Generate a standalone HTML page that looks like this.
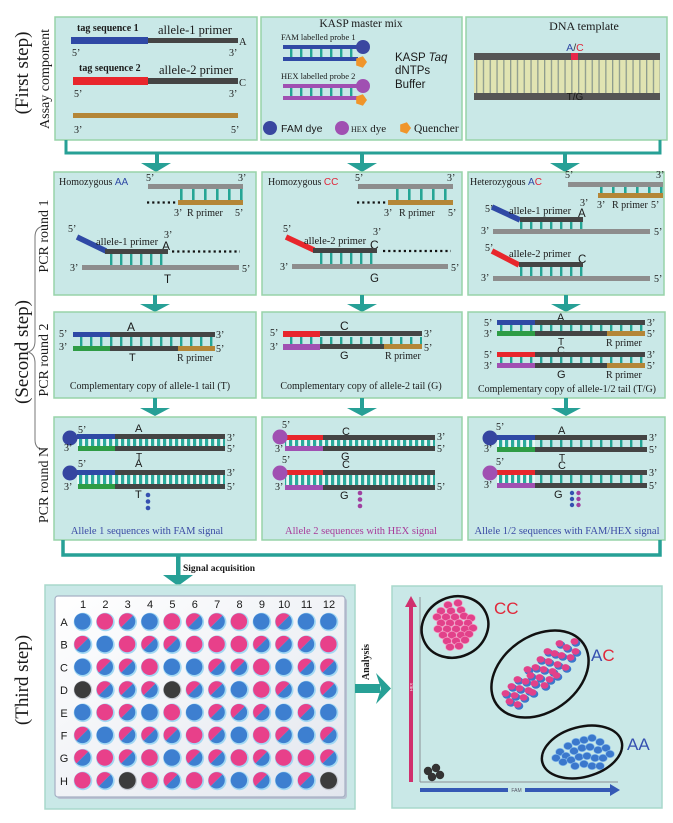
<!DOCTYPE html>
<html><head><meta charset="utf-8"><style>
html,body{margin:0;padding:0;background:#fff;}
svg{display:block;}
text{font-family:"Liberation Serif",serif;fill:#1a1a1a;}
.sa{font-family:"Liberation Sans",sans-serif;}
.pn{fill:#c9e8e7;stroke:#97d3a9;stroke-width:1.5;}
.f10{font-size:10px;}
</style></head><body>
<svg width="673" height="823" viewBox="0 0 673 823" xmlns="http://www.w3.org/2000/svg">
<defs>
<pattern id="r10" patternUnits="userSpaceOnUse" width="10" height="50"><rect width="2.4" height="50" fill="#25a595"/></pattern>
<pattern id="r12" patternUnits="userSpaceOnUse" width="12" height="50"><rect width="2.6" height="50" fill="#25a595"/></pattern>
<pattern id="r6" patternUnits="userSpaceOnUse" width="6" height="50"><rect width="6" height="50" fill="#eaf7f5"/><rect x="1" width="3.2" height="50" fill="#2aaa9c"/></pattern>
<pattern id="dna" patternUnits="userSpaceOnUse" width="6.8" height="50"><rect width="6.8" height="50" fill="#e1e4b2"/><rect width="1.3" height="50" fill="#8d9b8e"/></pattern>
<linearGradient id="pg" x1="0" y1="0" x2="1" y2="1"><stop offset="0" stop-color="#ffffff"/><stop offset="1" stop-color="#e2e6ee"/></linearGradient>
<g id="B"><circle r="9.3" fill="#a2d8f3"/><circle cx="-0.6" cy="-0.6" r="8.2" fill="#3d7fd0"/></g>
<g id="P"><circle r="9.3" fill="#a2d8f3"/><circle cx="-0.6" cy="-0.6" r="8.2" fill="#e8408a"/></g>
<g id="M"><circle r="9.3" fill="#a2d8f3"/><g transform="translate(-0.6,-0.6)"><path d="M5.8,-5.8 A8.2,8.2 0 0 0 -5.8,5.8Z" fill="#e8408a"/><path d="M5.8,-5.8 A8.2,8.2 0 0 1 -5.8,5.8Z" fill="#3d7fd0"/></g></g>
<g id="K"><circle r="9.3" fill="#c6cad2"/><circle cx="-0.4" cy="-0.4" r="8.4" fill="#3c3c3c"/></g>
<ellipse id="dp" rx="4.4" ry="3.7" fill="#e2418a" stroke="#f59ac3" stroke-width="0.6"/>
<ellipse id="db" rx="4.4" ry="3.7" fill="#3b78cc" stroke="#86bcec" stroke-width="0.6"/>
<g id="dm"><ellipse cx="0.9" cy="1" rx="4.4" ry="3.7" fill="#3b78cc"/><ellipse cx="-0.5" cy="-0.6" rx="4" ry="3.3" fill="#e2418a"/></g>
</defs>
<rect width="673" height="823" fill="#fff"/>

<!-- LEFT LABELS -->
<text transform="translate(28,73) rotate(-90)" text-anchor="middle" font-size="19">(First step)</text>
<text transform="translate(49,79) rotate(-90)" text-anchor="middle" font-size="14">Assay component</text>
<text transform="translate(68,59) rotate(-90)" text-anchor="middle" font-size="12.5">F primers</text>
<text transform="translate(68,117) rotate(-90)" text-anchor="middle" font-size="12.5">R primer</text>
<text transform="translate(28,352) rotate(-90)" text-anchor="middle" font-size="19">(Second step)</text>
<path d="M46,226 Q35,226 35,237 L35,341 Q35,350 28,352 Q35,354 35,363 L35,440 Q35,450 46,450" fill="none" stroke="#777" stroke-width="1"/>
<text transform="translate(48,236) rotate(-90)" text-anchor="middle" font-size="14">PCR round 1</text>
<text transform="translate(48,360) rotate(-90)" text-anchor="middle" font-size="14">PCR round 2</text>
<text transform="translate(48,485) rotate(-90)" text-anchor="middle" font-size="14">PCR round N</text>
<text transform="translate(28,680) rotate(-90)" text-anchor="middle" font-size="19">(Third step)</text>

<!-- ROW 1 -->
<rect x="55" y="17" width="202" height="123" class="pn"/>
<text x="77" y="31" font-size="10" font-weight="bold">tag sequence 1</text>
<text x="158" y="34" font-size="12.5">allele-1 primer</text>
<rect x="71" y="37" width="77" height="7" fill="#2f49a5"/>
<rect x="148" y="38" width="90" height="5" fill="#444"/>
<text x="239" y="45" font-size="10.5">A</text>
<text x="72" y="56" class="f10">5’</text><text x="229" y="56" class="f10">3’</text>
<text x="79" y="71" font-size="10" font-weight="bold">tag sequence 2</text>
<text x="159" y="74" font-size="12.5">allele-2 primer</text>
<rect x="73" y="77" width="75" height="8" fill="#e8262c"/>
<rect x="148" y="78" width="90" height="6" fill="#444"/>
<text x="239" y="86" font-size="10.5">C</text>
<text x="74" y="97" class="f10">5’</text><text x="229" y="97" class="f10">3’</text>
<rect x="73" y="113" width="165" height="5" fill="#b48637"/>
<text x="74" y="133" class="f10">3’</text><text x="231" y="133" class="f10">5’</text>

<rect x="261" y="17" width="201" height="123" class="pn"/>
<text x="361" y="27" text-anchor="middle" font-size="11.5">KASP master mix</text>
<text x="281" y="40" font-size="8.5">FAM labelled probe 1</text>
<rect x="283" y="45" width="78" height="4" fill="#2f49a5"/>
<rect x="283" y="49" width="75" height="8" fill="url(#r10)"/>
<rect x="283" y="57" width="75" height="4" fill="#2f49a5"/>
<circle cx="363" cy="47" r="7" fill="#3a47a0"/>
<polygon points="367,62 362.9,67.7 356.2,65.5 356.2,58.5 362.9,56.3" fill="#f0952a"/>
<text x="281" y="79" font-size="8.5">HEX labelled probe 2</text>
<rect x="283" y="84" width="78" height="4" fill="#a050b2"/>
<rect x="283" y="88" width="75" height="8" fill="url(#r10)"/>
<rect x="283" y="96" width="75" height="4" fill="#a050b2"/>
<circle cx="363" cy="86" r="7" fill="#a050b2"/>
<polygon points="367,100 362.9,105.7 356.2,103.5 356.2,96.5 362.9,94.3" fill="#f0952a"/>
<text x="395" y="61" class="sa" font-size="11.5">KASP <tspan font-style="italic">Taq</tspan></text>
<text x="395" y="74" class="sa" font-size="11.5">dNTPs</text>
<text x="395" y="88" class="sa" font-size="11.5">Buffer</text>
<circle cx="270" cy="128" r="7" fill="#3a47a0"/>
<text x="281" y="132" class="sa" font-size="10.5">FAM dye</text>
<circle cx="342" cy="128" r="7" fill="#a050b2"/>
<text x="351" y="132" font-size="11"><tspan font-size="8">HEX</tspan> dye</text>
<polygon points="411,128 406.9,133.7 400.2,131.5 400.2,124.5 406.9,122.3" fill="#f0952a"/>
<text x="414" y="132" font-size="11.5">Quencher</text>

<rect x="466" y="17" width="201" height="123" class="pn"/>
<text x="584" y="30" text-anchor="middle" font-size="12">DNA template</text>
<text x="575" y="51" text-anchor="middle" class="sa" font-size="10.5"><tspan fill="#2f49a5">A</tspan><tspan fill="#333">/</tspan><tspan fill="#e0263a">C</tspan></text>
<rect x="474" y="60" width="186" height="33" fill="url(#dna)"/>
<rect x="474" y="53" width="186" height="7" fill="#555"/>
<rect x="474" y="93" width="186" height="7" fill="#555"/>
<rect x="571" y="53" width="7" height="7" fill="#e8264a"/>
<text x="575" y="100" text-anchor="middle" class="sa" font-size="10">T/G</text>

<!-- connector 1 -->
<polyline points="66,140 66,153 660,153 660,140" fill="none" stroke="#27a096" stroke-width="3"/>
<rect x="155" y="153" width="4" height="12" fill="#27a096"/><polygon points="141,163 171,163 156,172" fill="#27a096"/>
<rect x="360" y="153" width="4" height="12" fill="#27a096"/><polygon points="347,163 377,163 362,172" fill="#27a096"/>
<rect x="563" y="153" width="4" height="12" fill="#27a096"/><polygon points="550,163 580,163 565,172" fill="#27a096"/>

<!-- ROW 2 -->
<rect x="54" y="172" width="202" height="123" class="pn"/>
<text x="59" y="185" class="f10">Homozygous <tspan class="sa" fill="#2f49a5">AA</tspan></text>
<text x="146" y="181" class="f10">5’</text><text x="238" y="181" class="f10">3’</text>
<rect x="148" y="184" width="95" height="5" fill="#8d8d8d"/>
<rect x="178" y="189" width="65" height="11" fill="url(#r12)"/>
<rect x="178" y="200" width="65" height="5" fill="#b48637"/>
<line x1="147" y1="202.5" x2="177" y2="202.5" stroke="#111" stroke-width="2.2" stroke-dasharray="2.2 3"/>
<text x="174" y="216" class="f10">3’</text><text x="187" y="216" class="f10">R primer</text><text x="235" y="216" class="f10">5’</text>
<text x="68" y="232" class="f10">5’</text>
<line x1="77" y1="237" x2="106" y2="251" stroke="#2f49a5" stroke-width="5.5"/>
<text x="96" y="245" font-size="10.5">allele-1 primer</text>
<text x="164" y="238" class="f10">3’</text>
<text x="162" y="250" class="sa" font-size="12" fill="#2f49a5">A</text>
<rect x="105" y="249" width="63" height="5" fill="#444"/>
<line x1="172" y1="251.5" x2="240" y2="251.5" stroke="#111" stroke-width="2.2" stroke-dasharray="2.2 3"/>
<rect x="106" y="254" width="63" height="11" fill="url(#r10)"/>
<text x="70" y="271" class="f10">3’</text>
<rect x="82" y="265" width="157" height="5" fill="#8d8d8d"/>
<text x="242" y="272" class="f10">5’</text>
<text x="164" y="283" class="sa" font-size="11.5">T</text>

<rect x="262" y="172" width="200" height="123" class="pn"/>
<text x="268" y="185" class="f10">Homozygous <tspan class="sa" fill="#e0263a">CC</tspan></text>
<text x="355" y="181" class="f10">5’</text><text x="447" y="181" class="f10">3’</text>
<rect x="358" y="184" width="95" height="5" fill="#8d8d8d"/>
<rect x="388" y="189" width="65" height="11" fill="url(#r12)"/>
<rect x="388" y="200" width="65" height="5" fill="#b48637"/>
<line x1="357" y1="202.5" x2="387" y2="202.5" stroke="#111" stroke-width="2.2" stroke-dasharray="2.2 3"/>
<text x="384" y="216" class="f10">3’</text><text x="399" y="216" class="f10">R  primer</text><text x="448" y="216" class="f10">5’</text>
<text x="283" y="232" class="f10">5’</text>
<line x1="286" y1="237" x2="314" y2="250" stroke="#e8262c" stroke-width="5.5"/>
<text x="304" y="244" font-size="10.5">allele-2 primer</text>
<text x="373" y="235" class="f10">3’</text>
<text x="370" y="249" class="sa" font-size="12" fill="#e0263a">C</text>
<rect x="313" y="248" width="64" height="5" fill="#444"/>
<line x1="383" y1="251" x2="451" y2="251" stroke="#111" stroke-width="2.2" stroke-dasharray="2.2 3"/>
<rect x="313" y="253" width="64" height="11" fill="url(#r10)"/>
<text x="280" y="270" class="f10">3’</text>
<rect x="292" y="264" width="156" height="5" fill="#8d8d8d"/>
<text x="451" y="271" class="f10">5’</text>
<text x="370" y="282" class="sa" font-size="11.5">G</text>

<rect x="468" y="172" width="196" height="123" class="pn"/>
<text x="470" y="185" class="f10">Heterozygous <tspan class="sa" fill="#2f49a5">A</tspan><tspan class="sa" fill="#e0263a">C</tspan></text>
<text x="565" y="178" class="f10">5’</text><text x="656" y="178" class="f10">3’</text>
<rect x="568" y="182" width="95" height="5" fill="#8d8d8d"/>
<rect x="598" y="187" width="65" height="6" fill="url(#r12)"/>
<rect x="598" y="193" width="65" height="5" fill="#b48637"/>
<text x="597" y="208" class="f10">3’</text><text x="612" y="208" class="f10">R primer</text><text x="651" y="208" class="f10">5’</text>
<text x="485" y="212" class="f10">5’</text>
<line x1="492" y1="207" x2="520" y2="220" stroke="#2f49a5" stroke-width="5.5"/>
<text x="509" y="214" font-size="10.5">allele-1 primer</text>
<text x="580" y="206" class="f10">3’</text>
<text x="578" y="217" class="sa" font-size="11.5" fill="#2f49a5">A</text>
<rect x="520" y="217" width="63" height="5" fill="#444"/>
<rect x="520" y="222" width="63" height="8" fill="url(#r10)"/>
<text x="481" y="234" class="f10">3’</text>
<rect x="493" y="229" width="157" height="5" fill="#8d8d8d"/>
<text x="654" y="235" class="f10">5’</text>
<text x="485" y="251" class="f10">5’</text>
<line x1="492" y1="251" x2="519" y2="265" stroke="#e8262c" stroke-width="5.5"/>
<text x="509" y="257" font-size="10.5">allele-2 primer</text>
<text x="578" y="263" class="sa" font-size="11.5" fill="#e0263a">C</text>
<rect x="519" y="262" width="64" height="5" fill="#444"/>
<rect x="519" y="267" width="64" height="9" fill="url(#r10)"/>
<text x="481" y="281" class="f10">3’</text>
<rect x="493" y="276" width="157" height="5" fill="#8d8d8d"/>
<text x="654" y="282" class="f10">5’</text>

<!-- arrows 2->3 -->
<rect x="153" y="295" width="4" height="10" fill="#27a096"/><polygon points="140,304 170,304 155,312" fill="#27a096"/>
<rect x="360" y="295" width="4" height="10" fill="#27a096"/><polygon points="347,304 377,304 362,312" fill="#27a096"/>
<rect x="564" y="295" width="4" height="10" fill="#27a096"/><polygon points="551,304 581,304 566,312" fill="#27a096"/>

<!-- ROW 3 -->
<rect x="54" y="312" width="202" height="86" class="pn"/>
<text x="127" y="331" class="sa" font-size="12" fill="#2f49a5">A</text>
<text x="59" y="337" class="f10">5’</text>
<rect x="73" y="337" width="142" height="9" fill="url(#r10)"/>
<rect x="73" y="332" width="37" height="5" fill="#2f49a5"/><rect x="110" y="332" width="105" height="5" fill="#444"/>
<text x="216" y="338" class="f10">3’</text>
<text x="59" y="350" class="f10">3’</text>
<rect x="73" y="346" width="37" height="5" fill="#2e9c45"/><rect x="110" y="346" width="68" height="5" fill="#444"/><rect x="178" y="346" width="37" height="5" fill="#b48637"/>
<text x="216" y="352" class="f10">5’</text>
<text x="129" y="361" class="sa" font-size="11">T</text>
<text x="177" y="361" class="f10">R primer</text>
<text x="150" y="389" text-anchor="middle" class="f10">Complementary copy of allele-1 tail (T)</text>

<rect x="262" y="312" width="200" height="86" class="pn"/>
<text x="340" y="330" class="sa" font-size="12" fill="#e0263a">C</text>
<text x="270" y="336" class="f10">5’</text>
<rect x="283" y="337" width="139" height="7" fill="url(#r10)"/>
<rect x="283" y="331" width="37" height="6" fill="#e8262c"/><rect x="320" y="331" width="102" height="5" fill="#444"/>
<text x="424" y="337" class="f10">3’</text>
<text x="270" y="350" class="f10">3’</text>
<rect x="283" y="344" width="37" height="6" fill="#a050b2"/><rect x="320" y="344" width="64" height="5" fill="#444"/><rect x="384" y="344" width="38" height="5" fill="#b48637"/>
<text x="424" y="351" class="f10">5’</text>
<text x="340" y="359" class="sa" font-size="11">G</text>
<text x="385" y="359" class="f10">R primer</text>
<text x="361" y="389" text-anchor="middle" class="f10">Complementary copy of allele-2 tail (G)</text>

<rect x="468" y="312" width="197" height="86" class="pn"/>
<text x="557" y="321" class="sa" font-size="11" fill="#2f49a5">A</text>
<text x="484" y="326" class="f10">5’</text>
<rect x="497" y="325" width="148" height="6" fill="url(#r10)"/>
<rect x="497" y="320" width="38" height="5" fill="#2f49a5"/><rect x="535" y="320" width="110" height="5" fill="#444"/>
<text x="647" y="326" class="f10">3’</text>
<text x="484" y="337" class="f10">3’</text>
<rect x="497" y="331" width="38" height="5" fill="#2e9c45"/><rect x="535" y="331" width="72" height="5" fill="#444"/><rect x="607" y="331" width="38" height="5" fill="#b48637"/>
<text x="647" y="337" class="f10">5’</text>
<text x="558" y="345" class="sa" font-size="10">T</text>
<text x="606" y="346" class="f10">R primer</text>
<text x="557" y="354" class="sa" font-size="11" fill="#e0263a">C</text>
<text x="484" y="358" class="f10">5’</text>
<rect x="497" y="357" width="148" height="6" fill="url(#r10)"/>
<rect x="497" y="352" width="38" height="5" fill="#e8262c"/><rect x="535" y="352" width="110" height="5" fill="#444"/>
<text x="647" y="358" class="f10">3’</text>
<text x="484" y="369" class="f10">3’</text>
<rect x="497" y="363" width="38" height="5" fill="#a050b2"/><rect x="535" y="363" width="72" height="5" fill="#444"/><rect x="607" y="363" width="38" height="5" fill="#b48637"/>
<text x="647" y="369" class="f10">5’</text>
<text x="557" y="378" class="sa" font-size="11">G</text>
<text x="606" y="378" class="f10">R primer</text>
<text x="567" y="392" text-anchor="middle" class="f10">Complementary copy of allele-1/2 tail (T/G)</text>

<!-- arrows 3->4 -->
<rect x="153" y="398" width="4" height="11" fill="#27a096"/><polygon points="140,408 170,408 155,416" fill="#27a096"/>
<rect x="360" y="398" width="4" height="11" fill="#27a096"/><polygon points="347,408 377,408 362,416" fill="#27a096"/>
<rect x="564" y="398" width="4" height="11" fill="#27a096"/><polygon points="551,408 581,408 566,416" fill="#27a096"/>

<!-- ROW 4 -->
<rect x="54" y="417" width="202" height="123" class="pn"/>
<text x="78" y="433" class="f10">5’</text>
<text x="135" y="432" class="sa" font-size="11" fill="#2f49a5">A</text>
<rect x="77" y="439" width="148" height="7" fill="url(#r6)"/>
<rect x="77" y="434" width="38" height="5" fill="#2f49a5"/><rect x="115" y="434" width="110" height="5" fill="#444"/>
<circle cx="70" cy="438" r="7.5" fill="#3545a0"/>
<text x="227" y="441" class="f10">3’</text>
<text x="64" y="451" class="f10">3’</text>
<rect x="78" y="446" width="37" height="5" fill="#2e9c45"/><rect x="115" y="446" width="110" height="5" fill="#444"/>
<text x="227" y="452" class="f10">5’</text>
<text x="136" y="460" class="sa" font-size="10">T</text>
<text x="78" y="467" class="f10">5’</text>
<text x="135" y="467" class="sa" font-size="11" fill="#2f49a5">A</text>
<rect x="77" y="475" width="148" height="9" fill="url(#r6)"/>
<rect x="77" y="470" width="38" height="5" fill="#2f49a5"/><rect x="115" y="470" width="110" height="5" fill="#444"/>
<circle cx="70" cy="473" r="7.5" fill="#3545a0"/>
<text x="227" y="476" class="f10">3’</text>
<text x="64" y="490" class="f10">3’</text>
<rect x="78" y="484" width="37" height="5" fill="#2e9c45"/><rect x="115" y="484" width="110" height="5" fill="#444"/>
<text x="227" y="490" class="f10">5’</text>
<text x="135" y="498" class="sa" font-size="11">T</text>
<circle cx="148" cy="495" r="2.3" fill="#3550b0"/><circle cx="148" cy="501.5" r="2.3" fill="#3550b0"/><circle cx="148" cy="508" r="2.3" fill="#3550b0"/>
<text x="147" y="534" text-anchor="middle" font-size="10.5" style="fill:#3a4aa5">Allele 1 sequences with FAM signal</text>

<rect x="262" y="417" width="200" height="123" class="pn"/>
<text x="282" y="428" class="f10">5’</text>
<text x="342" y="435" class="sa" font-size="11" fill="#e0263a">C</text>
<rect x="285" y="440" width="150" height="6" fill="url(#r6)"/>
<rect x="285" y="435" width="38" height="5" fill="#e8262c"/><rect x="323" y="435" width="112" height="5" fill="#444"/>
<circle cx="280" cy="437" r="7.5" fill="#a050b2"/>
<text x="437" y="440" class="f10">3’</text>
<text x="275" y="452" class="f10">3’</text>
<rect x="285" y="446" width="38" height="5" fill="#a050b2"/><rect x="323" y="446" width="112" height="5" fill="#444"/>
<text x="437" y="452" class="f10">5’</text>
<text x="341" y="460" class="sa" font-size="11">G</text>
<text x="282" y="463" class="f10">5’</text>
<text x="342" y="468" class="sa" font-size="11" fill="#e0263a">C</text>
<rect x="285" y="475" width="150" height="10" fill="url(#r6)"/>
<rect x="285" y="470" width="38" height="5" fill="#e8262c"/><rect x="323" y="470" width="112" height="5" fill="#444"/>
<circle cx="280" cy="473" r="7.5" fill="#a050b2"/>
<text x="275" y="490" class="f10">3’</text>
<rect x="285" y="485" width="38" height="5" fill="#a050b2"/><rect x="323" y="485" width="112" height="5" fill="#444"/>
<text x="437" y="490" class="f10">5’</text>
<text x="340" y="499" class="sa" font-size="11">G</text>
<circle cx="360" cy="493" r="2.3" fill="#a040a0"/><circle cx="360" cy="499.5" r="2.3" fill="#a040a0"/><circle cx="360" cy="506" r="2.3" fill="#a040a0"/>
<text x="361" y="534" text-anchor="middle" font-size="10.5" style="fill:#a83a9a">Allele 2 sequences with HEX signal</text>

<rect x="468" y="417" width="197" height="123" class="pn"/>
<text x="496" y="430" class="f10">5’</text>
<text x="558" y="434" class="sa" font-size="11" fill="#2f49a5">A</text>
<rect x="497" y="440" width="150" height="7" fill="url(#r10)"/>
<rect x="497" y="440" width="38" height="7" fill="url(#r6)"/>
<rect x="497" y="435" width="38" height="5" fill="#2f49a5"/><rect x="535" y="435" width="112" height="5" fill="#444"/>
<circle cx="490" cy="438" r="7.5" fill="#3545a0"/>
<text x="649" y="441" class="f10">3’</text>
<text x="484" y="452" class="f10">3’</text>
<rect x="497" y="447" width="38" height="5" fill="#2e9c45"/><rect x="535" y="447" width="112" height="5" fill="#444"/>
<text x="649" y="453" class="f10">5’</text>
<text x="559" y="461" class="sa" font-size="10">T</text>
<text x="496" y="465" class="f10">5’</text>
<text x="558" y="469" class="sa" font-size="11" fill="#e0263a">C</text>
<rect x="497" y="475" width="150" height="8" fill="url(#r10)"/>
<rect x="497" y="475" width="38" height="8" fill="url(#r6)"/>
<rect x="497" y="470" width="38" height="5" fill="#e8262c"/><rect x="535" y="470" width="112" height="5" fill="#444"/>
<circle cx="490" cy="473" r="7.5" fill="#a050b2"/>
<text x="649" y="476" class="f10">3’</text>
<text x="484" y="488" class="f10">3’</text>
<rect x="497" y="483" width="38" height="5" fill="#a050b2"/><rect x="535" y="483" width="112" height="5" fill="#444"/>
<text x="649" y="489" class="f10">5’</text>
<text x="554" y="498" class="sa" font-size="11">G</text>
<circle cx="572" cy="493" r="2.2" fill="#3550b0"/><circle cx="572" cy="499" r="2.2" fill="#3550b0"/><circle cx="572" cy="505" r="2.2" fill="#3550b0"/>
<circle cx="578.5" cy="493" r="2.2" fill="#a040a0"/><circle cx="578.5" cy="499" r="2.2" fill="#a040a0"/><circle cx="578.5" cy="505" r="2.2" fill="#a040a0"/>
<text x="567" y="534" text-anchor="middle" font-size="10.5" style="fill:#3a4aa5">Allele 1/2 sequences with FAM/HEX signal</text>

<!-- bottom connector -->
<polyline points="63,540 63,555 660,555 660,540" fill="none" stroke="#27a096" stroke-width="3.5"/>
<rect x="176" y="555" width="4.5" height="21" fill="#27a096"/><polygon points="163,575 193,575 178,586" fill="#27a096"/>
<text x="183" y="571" font-size="9.5" font-weight="bold">Signal acquisition</text>

<!-- PLATE -->
<rect x="45" y="585" width="310" height="224" class="pn" style="stroke:#a8d8cc"/>
<rect x="57" y="598" width="290" height="201" rx="3" fill="#b9c2d2"/>
<rect x="55" y="596" width="290" height="201" rx="3" fill="url(#pg)" stroke="#a6b0c4" stroke-width="1.2"/>
<g class="sa" font-size="11" text-anchor="middle">
<text x="83" y="608" class="sa">1</text><text x="105.4" y="608" class="sa">2</text><text x="127.7" y="608" class="sa">3</text><text x="150.1" y="608" class="sa">4</text><text x="172.4" y="608" class="sa">5</text><text x="194.8" y="608" class="sa">6</text><text x="217.2" y="608" class="sa">7</text><text x="239.5" y="608" class="sa">8</text><text x="261.9" y="608" class="sa">9</text><text x="284.2" y="608" class="sa">10</text><text x="306.6" y="608" class="sa">11</text><text x="329" y="608" class="sa">12</text>
<text x="64" y="626" class="sa">A</text><text x="64" y="648.7" class="sa">B</text><text x="64" y="671.4" class="sa">C</text><text x="64" y="694.1" class="sa">D</text><text x="64" y="716.8" class="sa">E</text><text x="64" y="739.5" class="sa">F</text><text x="64" y="762.2" class="sa">G</text><text x="64" y="784.9" class="sa">H</text>
</g>
<g>
<use href="#B" x="83" y="622"/><use href="#P" x="105.4" y="622"/><use href="#M" x="127.7" y="622"/><use href="#B" x="150.1" y="622"/><use href="#P" x="172.4" y="622"/><use href="#M" x="194.8" y="622"/><use href="#M" x="217.2" y="622"/><use href="#P" x="239.5" y="622"/><use href="#B" x="261.9" y="622"/><use href="#M" x="284.2" y="622"/><use href="#B" x="306.6" y="622"/><use href="#B" x="329" y="622"/>
<use href="#M" x="83" y="644.7"/><use href="#B" x="105.4" y="644.7"/><use href="#P" x="127.7" y="644.7"/><use href="#M" x="150.1" y="644.7"/><use href="#M" x="172.4" y="644.7"/><use href="#P" x="194.8" y="644.7"/><use href="#P" x="217.2" y="644.7"/><use href="#P" x="239.5" y="644.7"/><use href="#M" x="261.9" y="644.7"/><use href="#M" x="284.2" y="644.7"/><use href="#M" x="306.6" y="644.7"/><use href="#P" x="329" y="644.7"/>
<use href="#B" x="83" y="667.4"/><use href="#M" x="105.4" y="667.4"/><use href="#M" x="127.7" y="667.4"/><use href="#P" x="150.1" y="667.4"/><use href="#B" x="172.4" y="667.4"/><use href="#B" x="194.8" y="667.4"/><use href="#M" x="217.2" y="667.4"/><use href="#M" x="239.5" y="667.4"/><use href="#P" x="261.9" y="667.4"/><use href="#B" x="284.2" y="667.4"/><use href="#M" x="306.6" y="667.4"/><use href="#M" x="329" y="667.4"/>
<use href="#K" x="83" y="690.1"/><use href="#M" x="105.4" y="690.1"/><use href="#M" x="127.7" y="690.1"/><use href="#M" x="150.1" y="690.1"/><use href="#K" x="172.4" y="690.1"/><use href="#M" x="194.8" y="690.1"/><use href="#M" x="217.2" y="690.1"/><use href="#B" x="239.5" y="690.1"/><use href="#P" x="261.9" y="690.1"/><use href="#M" x="284.2" y="690.1"/><use href="#B" x="306.6" y="690.1"/><use href="#M" x="329" y="690.1"/>
<use href="#B" x="83" y="712.8"/><use href="#P" x="105.4" y="712.8"/><use href="#M" x="127.7" y="712.8"/><use href="#B" x="150.1" y="712.8"/><use href="#P" x="172.4" y="712.8"/><use href="#B" x="194.8" y="712.8"/><use href="#M" x="217.2" y="712.8"/><use href="#M" x="239.5" y="712.8"/><use href="#M" x="261.9" y="712.8"/><use href="#B" x="284.2" y="712.8"/><use href="#M" x="306.6" y="712.8"/><use href="#B" x="329" y="712.8"/>
<use href="#M" x="83" y="735.5"/><use href="#B" x="105.4" y="735.5"/><use href="#M" x="127.7" y="735.5"/><use href="#M" x="150.1" y="735.5"/><use href="#M" x="172.4" y="735.5"/><use href="#P" x="194.8" y="735.5"/><use href="#M" x="217.2" y="735.5"/><use href="#B" x="239.5" y="735.5"/><use href="#P" x="261.9" y="735.5"/><use href="#M" x="284.2" y="735.5"/><use href="#B" x="306.6" y="735.5"/><use href="#M" x="329" y="735.5"/>
<use href="#M" x="83" y="758.2"/><use href="#P" x="105.4" y="758.2"/><use href="#M" x="127.7" y="758.2"/><use href="#P" x="150.1" y="758.2"/><use href="#B" x="172.4" y="758.2"/><use href="#M" x="194.8" y="758.2"/><use href="#M" x="217.2" y="758.2"/><use href="#P" x="239.5" y="758.2"/><use href="#M" x="261.9" y="758.2"/><use href="#P" x="284.2" y="758.2"/><use href="#P" x="306.6" y="758.2"/><use href="#M" x="329" y="758.2"/>
<use href="#P" x="83" y="780.9"/><use href="#M" x="105.4" y="780.9"/><use href="#K" x="127.7" y="780.9"/><use href="#P" x="150.1" y="780.9"/><use href="#M" x="172.4" y="780.9"/><use href="#P" x="194.8" y="780.9"/><use href="#M" x="217.2" y="780.9"/><use href="#B" x="239.5" y="780.9"/><use href="#M" x="261.9" y="780.9"/><use href="#B" x="284.2" y="780.9"/><use href="#M" x="306.6" y="780.9"/><use href="#K" x="329" y="780.9"/>
</g>

<!-- Analysis arrow -->
<rect x="355" y="684" width="25" height="9" fill="#27a096"/>
<polygon points="376,673 391,688.5 376,704 381,688.5" fill="#27a096"/>
<text transform="translate(369,662) rotate(-90)" text-anchor="middle" font-size="10" font-weight="bold">Analysis</text>

<!-- SCATTER -->
<rect x="392" y="586" width="270" height="222" class="pn" style="stroke:#a8d8cc"/>
<line x1="420" y1="597" x2="420" y2="782" stroke="#8a8f96" stroke-width="1"/>
<line x1="420" y1="782" x2="618" y2="782" stroke="#8a8f96" stroke-width="1"/>
<rect x="409" y="604" width="4" height="178" fill="#d0306e"/>
<polygon points="405,607 417,607 411,596" fill="#d0306e"/>
<text transform="translate(412.5,687) rotate(-90)" text-anchor="middle" class="sa" font-size="4" style="fill:#fff">HEX</text>
<rect x="420" y="788" width="88" height="4" fill="#3559b5"/>
<rect x="525" y="788" width="87" height="4" fill="#3559b5"/>
<polygon points="610,784 610,796 620,790" fill="#3559b5"/>
<text x="516.5" y="792" text-anchor="middle" class="sa" font-size="5" style="fill:#556">FAM</text>

<g>
<use href="#dp" x="448" y="605"/><use href="#dp" x="458" y="603"/>
<use href="#dp" x="441" y="611"/><use href="#dp" x="451" y="611"/><use href="#dp" x="461" y="610"/>
<use href="#dp" x="437" y="617"/><use href="#dp" x="446" y="617"/><use href="#dp" x="455" y="617"/><use href="#dp" x="464" y="616"/><use href="#dp" x="471" y="618"/>
<use href="#dp" x="441" y="623"/><use href="#dp" x="450" y="623"/><use href="#dp" x="459" y="623"/><use href="#dp" x="468" y="623"/>
<use href="#dp" x="438" y="629"/><use href="#dp" x="447" y="629"/><use href="#dp" x="456" y="629"/><use href="#dp" x="465" y="629"/><use href="#dp" x="473" y="628"/>
<use href="#dp" x="443" y="635"/><use href="#dp" x="452" y="635"/><use href="#dp" x="461" y="635"/><use href="#dp" x="469" y="634"/>
<use href="#dp" x="447" y="641"/><use href="#dp" x="456" y="641"/><use href="#dp" x="465" y="640"/>
<use href="#dp" x="450" y="647"/><use href="#dp" x="459" y="646"/>
</g>
<g>
<use href="#dm" x="575" y="642"/><use href="#dm" x="560" y="644"/><use href="#dm" x="567" y="648"/><use href="#dm" x="548" y="652"/><use href="#dm" x="555" y="654"/><use href="#dm" x="576" y="652"/>
<use href="#dm" x="562" y="656"/><use href="#dm" x="571" y="658"/><use href="#dm" x="541" y="660"/><use href="#dm" x="549" y="662"/><use href="#dm" x="558" y="665"/><use href="#dm" x="566" y="668"/>
<use href="#dm" x="536" y="668"/><use href="#dm" x="544" y="670"/><use href="#dm" x="528" y="670"/><use href="#dm" x="553" y="672"/><use href="#dm" x="531" y="676"/><use href="#dm" x="557" y="676"/>
<use href="#dm" x="540" y="678"/><use href="#dm" x="518" y="680"/><use href="#dm" x="550" y="680"/><use href="#dm" x="526" y="682"/><use href="#dm" x="535" y="684"/><use href="#dm" x="545" y="686"/>
<use href="#dm" x="512" y="687"/><use href="#dm" x="520" y="689"/><use href="#dm" x="529" y="691"/><use href="#dm" x="533" y="693"/><use href="#dm" x="506" y="694"/><use href="#dm" x="515" y="696"/>
<use href="#dm" x="524" y="698"/><use href="#dm" x="510" y="702"/><use href="#dm" x="518" y="705"/>
</g>
<g>
<use href="#db" x="568" y="746"/><use href="#db" x="576" y="742"/><use href="#db" x="584" y="740"/><use href="#db" x="592" y="738"/><use href="#db" x="600" y="742"/>
<use href="#db" x="560" y="752"/><use href="#db" x="574" y="751"/><use href="#db" x="582" y="748"/><use href="#db" x="590" y="747"/><use href="#db" x="598" y="750"/><use href="#db" x="606" y="748"/>
<use href="#db" x="566" y="756"/><use href="#db" x="556" y="758"/><use href="#db" x="563" y="762"/><use href="#db" x="571" y="760"/><use href="#db" x="579" y="757"/><use href="#db" x="587" y="756"/><use href="#db" x="595" y="758"/><use href="#db" x="603" y="758"/><use href="#db" x="610" y="754"/>
<use href="#db" x="575" y="766"/><use href="#db" x="584" y="764"/><use href="#db" x="592" y="766"/><use href="#db" x="600" y="766"/>
</g>
<circle cx="428" cy="771" r="4.2" fill="#333"/><circle cx="436" cy="768" r="4.2" fill="#333"/><circle cx="432" cy="777" r="4.2" fill="#333"/><circle cx="440" cy="775" r="4.2" fill="#333"/>

<ellipse cx="455" cy="627" rx="34" ry="30" transform="rotate(-25 455 627)" fill="none" stroke="#111" stroke-width="2.5"/>
<ellipse cx="540" cy="674" rx="53" ry="38" transform="rotate(-35 540 674)" fill="none" stroke="#111" stroke-width="2.5"/>
<ellipse cx="582" cy="752" rx="41" ry="25" transform="rotate(-15 582 752)" fill="none" stroke="#111" stroke-width="2.5"/>
<text x="494" y="614" class="sa" font-size="17" style="fill:#e0283a">CC</text>
<text x="591" y="661" class="sa" font-size="17"><tspan style="fill:#3550b0">A</tspan><tspan style="fill:#e0283a">C</tspan></text>
<text x="627" y="750" class="sa" font-size="17" style="fill:#3550b0">AA</text>
</svg>
</body></html>
